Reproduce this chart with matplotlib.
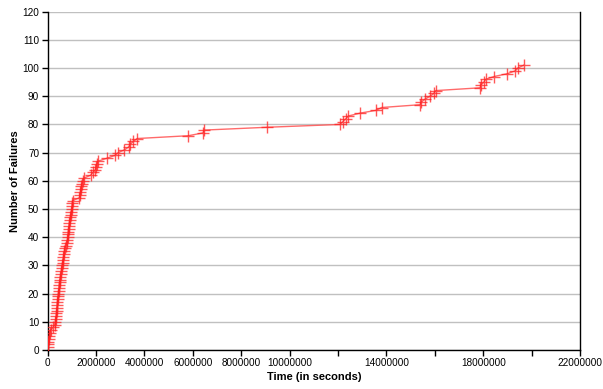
import matplotlib
matplotlib.use("Agg")
import matplotlib.pyplot as plt
from matplotlib.ticker import FixedLocator, FixedFormatter

plt.rcParams['font.family'] = ['Liberation Sans', 'DejaVu Sans']

# Cumulative failure times (seconds) for failures 1..101
failure_times = [
    0, 20000, 40000, 60000, 80000, 100000, 130000, 230000, 300000, 320000,
    340000, 360000, 370000, 380000, 390000, 400000, 410000, 420000, 440000, 450000,
    460000, 470000, 480000, 500000, 510000, 530000, 550000, 570000, 580000, 600000,
    620000, 640000, 660000, 680000, 700000, 720000, 760000, 800000, 820000, 840000,
    850000, 860000, 870000, 880000, 900000, 920000, 940000, 960000, 980000, 1000000,
    1010000, 1020000, 1040000, 1320000, 1340000, 1360000, 1380000, 1400000, 1430000, 1470000,
    1520000, 1780000, 1880000, 1980000, 2020000, 2050000, 2100000, 2450000, 2780000, 2920000,
    3180000, 3350000, 3420000, 3550000, 3700000, 5820000, 6420000, 6480000, 9080000, 12080000,
    12200000, 12320000, 12430000, 12910000, 13570000, 13800000, 15390000, 15450000, 15600000, 15800000,
    15960000, 16030000, 17880000, 17900000, 18030000, 18100000, 18450000, 19000000, 19320000, 19430000,
    19670000,
]
failure_counts = list(range(1, len(failure_times) + 1))

x_tick_values = [0, 2000000, 4000000, 6000000, 8000000, 10000000, 12000000,
                 14000000, 16000000, 18000000, 20000000, 22000000]
x_tick_labels = ["0", "2000000", "4000000", "6000000", "8000000", "10000000", "",
                 "14000000", "", "18000000", "", "22000000"]
y_tick_values = list(range(0, 121, 10))

fig = plt.figure(figsize=(6.03, 3.89), dpi=100)
ax = fig.add_axes([0.0788, 0.1003, 0.8831, 0.8697])

ax.plot(failure_times, failure_counts, color='#ff5050', lw=1.0, alpha=0.85, zorder=3)
ax.plot(failure_times, failure_counts, linestyle='none', marker='+', markersize=8,
        markeredgewidth=1.0, color='#ff2020', alpha=0.75, zorder=4)

ax.set_xlim(0, 22000000)
ax.set_ylim(0, 120)
ax.xaxis.set_major_locator(FixedLocator(x_tick_values))
ax.xaxis.set_major_formatter(FixedFormatter(x_tick_labels))
ax.set_yticks(y_tick_values)

ax.grid(axis='y', color='#c0c0c0', lw=1.0)
ax.set_axisbelow(True)
for side in ('left', 'bottom', 'right'):
    ax.spines[side].set_color('black')
    ax.spines[side].set_linewidth(1.0)
ax.spines['top'].set_visible(False)

ax.tick_params(axis='both', direction='out', length=4, width=1, labelsize=7.2, pad=2)

ax.set_xlabel('Time (in seconds)', fontsize=8, fontweight='bold', labelpad=3)
ax.set_ylabel('Number of Failures', fontsize=8, fontweight='bold', labelpad=2)

fig.savefig('out.png', dpi=100)
